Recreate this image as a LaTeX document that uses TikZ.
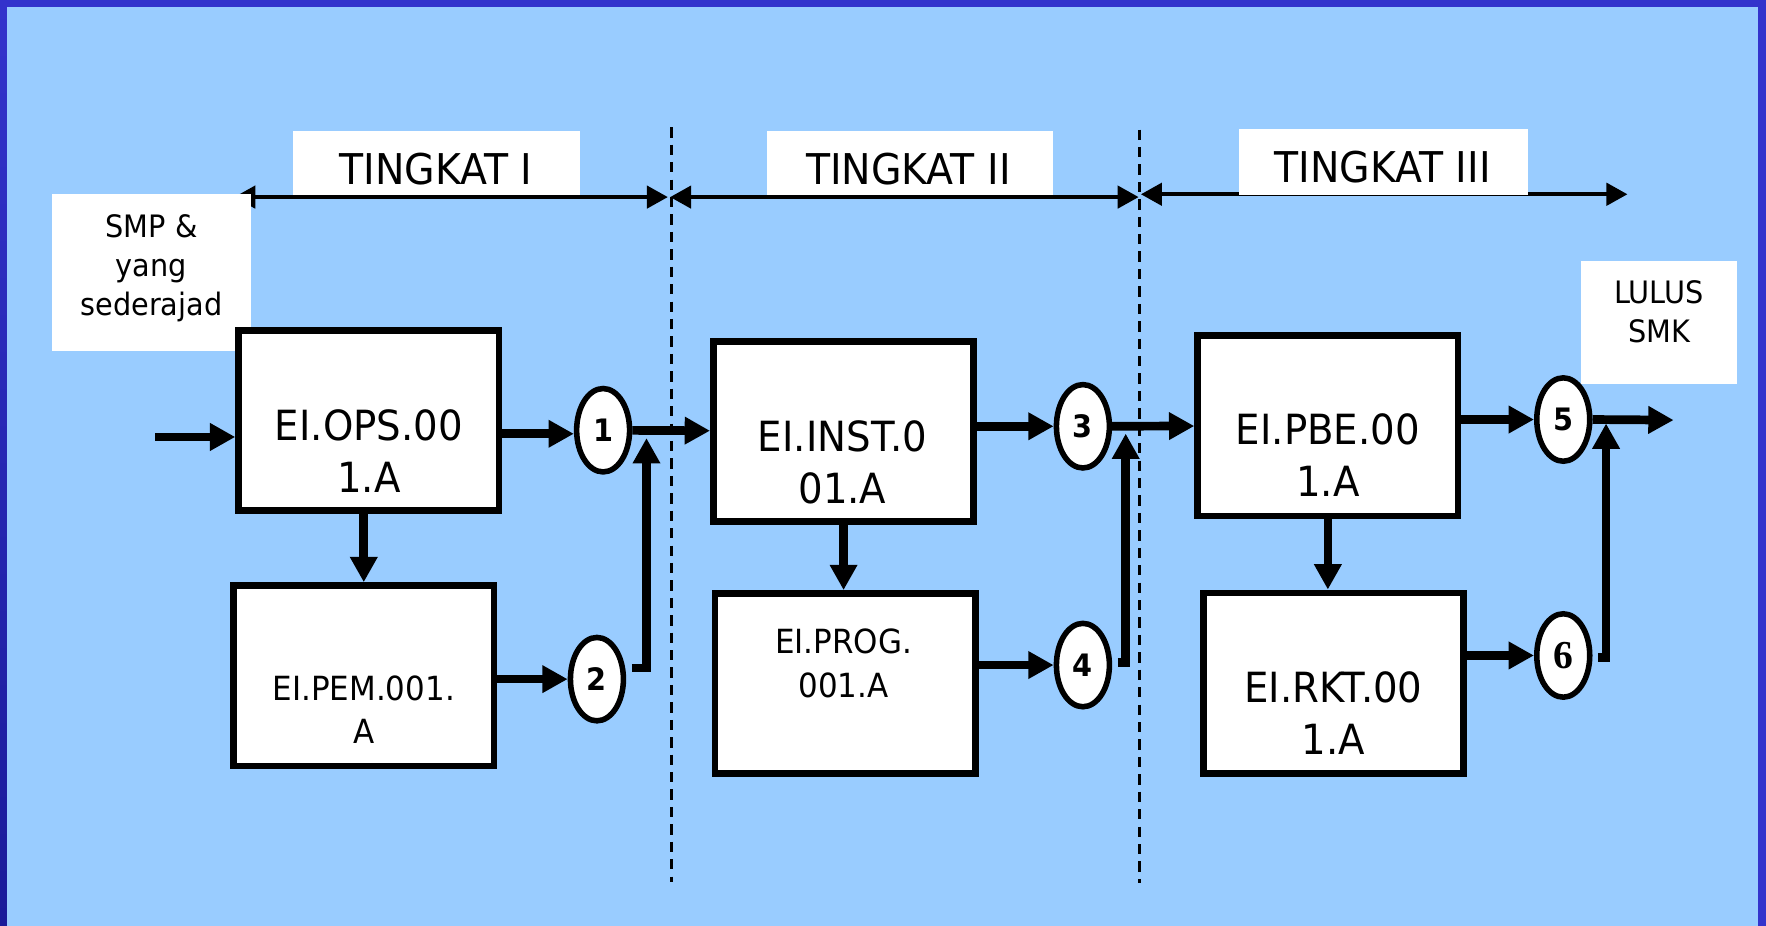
\documentclass[tikz,border=0pt]{standalone}
\usepackage{fontspec}
\setmainfont{DejaVu Sans}[FakeStretch=0.93]
\newfontfamily\sixfont{Liberation Serif}
\usetikzlibrary{shapes.geometric,% ellipse for the junctions
arrows.meta}
\definecolor{sky}{HTML}{99CCFF}
\definecolor{frameblue}{HTML}{3333CC}
\definecolor{framedark}{HTML}{1A1A99}
\tikzset{
  block/.style={draw,line width=1.7pt,fill=white,minimum width=2.31cm,
    minimum height=1.60cm,inner sep=0pt},
  blocktext/.style={align=center,inner sep=0pt,font=\fontsize{10.5}{13.1}\selectfont},
  smalltext/.style={align=center,inner sep=0pt,font=\fontsize{8.4}{11}\selectfont},
  notetext/.style={align=center,inner sep=0pt,font=\fontsize{7.8}{9.8}\selectfont},
  tiertext/.style={inner sep=0pt,font=\fontsize{10.7}{12}\selectfont},
  whitebox/.style={fill=white,inner sep=0pt},
  junction/.style={ellipse,draw,line width=1.4pt,fill=white,minimum width=0.47cm,
    minimum height=0.74cm,inner sep=0pt,font=\fontsize{7.8}{9}\selectfont\bfseries},
  flow/.style={line width=2.2pt,-{Triangle[length=6.4pt,width=6.6pt]}},
  tierspan/.style={line width=1pt,
    {Triangle[length=5.3pt,width=5.6pt]}-{Triangle[length=5.3pt,width=5.6pt]}},
  divider/.style={line width=0.8pt,dash pattern=on 2.6pt off 1.8pt}
}
\begin{document}
\begin{tikzpicture}[x=0.01cm,y=-0.01cm]
% frame and background
\fill[frameblue] (0,0) rectangle (1568,822);
\shade[top color=frameblue,bottom color=framedark] (0,0) rectangle (6,822);
\fill[sky] (6,6) rectangle (1561,822);
\useasboundingbox (0,0) rectangle (1568,822);

% tier dividers and spans
\draw[divider] (596.5,113) -- (596.5,783);
\draw[divider] (1012,115) -- (1012,784);
\coordinate (tIa) at (208,175);
\coordinate (tIb) at (593,175);
\coordinate (tIIa) at (595,175);
\coordinate (tIIb) at (1011,175);
\coordinate (tIIIa) at (1013,172.5);
\coordinate (tIIIb) at (1445,172.5);
\draw[tierspan] (tIa) -- (tIb);
\draw[tierspan] (tIIa) -- (tIIb);
\draw[tierspan] (tIIIa) -- (tIIIb);

\node[whitebox,minimum width=2.55cm,minimum height=0.57cm] (tierI) at (387.5,144.5) {};
\node[whitebox,minimum width=2.54cm,minimum height=0.57cm] (tierII) at (808,144.5) {};
\node[whitebox,minimum width=2.56cm,minimum height=0.58cm] (tierIII) at (1228.5,144) {};
\node[tiertext] (tierItext) at (387,150.25) {TINGKAT I};
\node[tiertext] (tierIItext) at (806.5,150.25) {TINGKAT II};
\node[tiertext] (tierIIItext) at (1227.5,148.5) {TINGKAT III};

% entry and exit notes
\node[whitebox,minimum width=1.77cm,minimum height=1.40cm] (smp) at (134.5,242) {};
\node[notetext] (smptext) at (134.5,238) {SMP \&\\yang\\sederajad};
\node[whitebox,minimum width=1.38cm,minimum height=1.09cm] (lulus) at (1473,286.5) {};
\node[notetext] (lulustext) at (1473,276.5) {LULUS\\SMK};

% modules
\node[block] (ops) at (327.5,373.5) {};
\node[block] (pem) at (323,600) {};
\node[block] (inst) at (749,383) {};
\node[block] (prog) at (750.5,607) {};
\node[block] (pbe) at (1179,378) {};
\node[block] (rkt) at (1184,606.5) {};
\node[blocktext] (opstext) at (327.5,400.5) {EI.OPS.00\\1.A};
\node[smalltext] (pemtext) at (323,630) {EI.PEM.001.\\A};
\node[blocktext] (insttext) at (748,410.5) {EI.INST.0\\01.A};
\node[smalltext] (progtext) at (749,589) {EI.PROG.\\001.A};
\node[blocktext] (pbetext) at (1179,403.75) {EI.PBE.00\\1.A};
\node[blocktext] (rkttext) at (1184,633.5) {EI.RKT.00\\1.A};

% junctions
\node[junction] (c1) at (535.5,382) {1};
\node[junction] (c2) at (530,603) {2};
\node[junction] (c3) at (961.5,378.5) {3};
\node[junction] (c4) at (961.5,590.5) {4};
\node[junction] (c5) at (1388,372.5) {5};
\node[junction] (c6) at (1388,582) {\sixfont\fontsize{10}{10}\selectfont 6};

% flow
\coordinate (in) at (138,388);
\coordinate (j1) at (574,389);
\coordinate (j2) at (999.5,385);
\coordinate (j3) at (1426,376);
\coordinate (out) at (1486,373);
\draw[flow] (in) -- (ops.west |- in);
\draw[flow] ([yshift=-0.9pt]ops.east |- c1.west) -- ([yshift=-0.9pt]c1.west);
\draw[flow] (c1) -- (inst);
\draw[flow] (ops.south -| pem.north) -- (pem.north);
\draw[flow] (pem.east |- c2.west) -- (c2.west);
\draw[flow] ([shift={(5,-10)}]c2.east) -| (j1);
\draw[flow] (inst.east |- c3.west) -- (c3.west);
\draw[flow] (c3) -- (pbe);
\draw[flow] (inst.south) -- (inst.south |- prog.north);
\draw[flow] (prog.east |- c4.west) -- (c4.west);
\draw[flow] ([shift={(5,-2)}]c4.east) -| (j2);
\draw[flow] (pbe.east |- c5.west) -- (c5.west);
\draw[flow] (c5.east) -- (out);
\draw[flow] (pbe.south) -- (pbe.south |- rkt.north);
\draw[flow] (rkt.east |- c6.west) -- (c6.west);
\draw[flow] ([shift={(5,2)}]c6.east) -| (j3);
\end{tikzpicture}
\end{document}
